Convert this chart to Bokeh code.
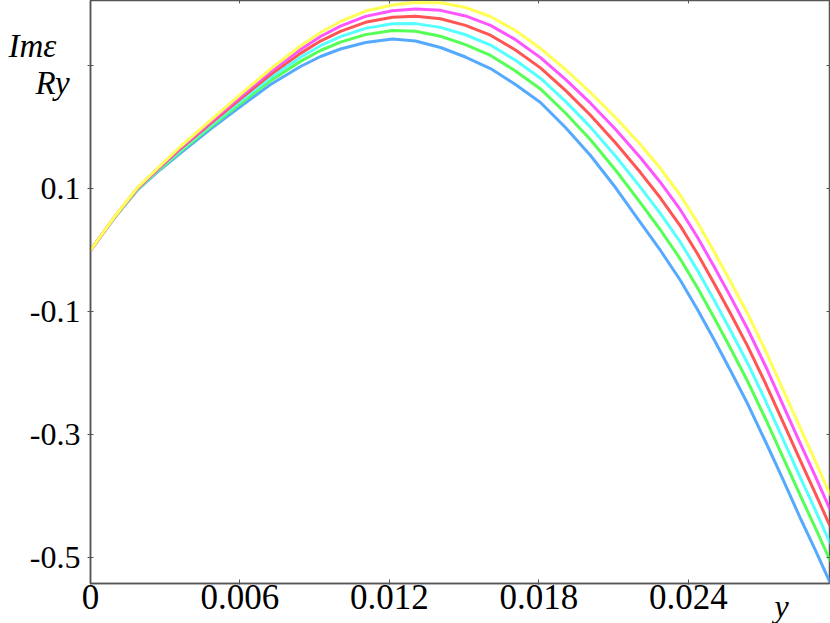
from bokeh.plotting import figure
from bokeh.models import Range1d, FixedTicker, LinearAxis
from bokeh.core.properties import value
from bokeh.embed import file_html
from bokeh.resources import INLINE

# abscissa (y) values
x = [0.0, 0.001003, 0.001886, 0.002809, 0.003612, 0.004816, 0.006020, 0.007224,
     0.008428, 0.009231, 0.010033, 0.011037, 0.012120, 0.013043, 0.014047,
     0.015050, 0.016054, 0.017057, 0.018060, 0.019064, 0.020067, 0.021070,
     0.022074, 0.022876, 0.023679, 0.024361, 0.025003, 0.025686, 0.026368,
     0.027090, 0.027773, 0.028495, 0.029097, 0.029699]

yellow = [0.0, 0.0569, 0.1024, 0.1382, 0.1691, 0.2114, 0.2537, 0.2951, 0.3325,
          0.3545, 0.3724, 0.3894, 0.3992, 0.4033, 0.4029, 0.3951, 0.3805, 0.3577,
          0.3285, 0.2943, 0.2569, 0.2163, 0.1724, 0.1333, 0.0894, 0.0455, 0.0,
          -0.0504, -0.1024, -0.1626, -0.2244, -0.2894, -0.3431, -0.3984]
magenta = [0.0, 0.0566, 0.1017, 0.1371, 0.1673, 0.2091, 0.2504, 0.2908, 0.3268,
           0.3479, 0.3648, 0.3807, 0.3898, 0.3927, 0.3905, 0.3814, 0.3661, 0.3428,
           0.3136, 0.2783, 0.2395, 0.1970, 0.1508, 0.1106, 0.0659, 0.0215, -0.0243,
           -0.0750, -0.1273, -0.1878, -0.2493, -0.3143, -0.3677, -0.4227]
red = [0.0, 0.0563, 0.1009, 0.1359, 0.1653, 0.2064, 0.2467, 0.2860, 0.3205,
       0.3405, 0.3563, 0.3710, 0.3793, 0.3808, 0.3767, 0.3661, 0.3501, 0.3261,
       0.2969, 0.2603, 0.2200, 0.1753, 0.1267, 0.0853, 0.0396, -0.0054, -0.0515,
       -0.1025, -0.1551, -0.2159, -0.2771, -0.3421, -0.3952, -0.4499]
cyan = [0.0, 0.0560, 0.1002, 0.1346, 0.1633, 0.2038, 0.2430, 0.2812, 0.3142,
        0.3330, 0.3478, 0.3612, 0.3688, 0.3689, 0.3628, 0.3508, 0.3340, 0.3094,
        0.2802, 0.2424, 0.2006, 0.1537, 0.1026, 0.0600, 0.0134, -0.0323, -0.0787,
        -0.1300, -0.1829, -0.2440, -0.3049, -0.3699, -0.4227, -0.4771]
green = [0.0, 0.0557, 0.0993, 0.1333, 0.1612, 0.2010, 0.2391, 0.2762, 0.3075,
         0.3252, 0.3389, 0.3510, 0.3577, 0.3564, 0.3483, 0.3347, 0.3171, 0.2919,
         0.2627, 0.2236, 0.1801, 0.1309, 0.0773, 0.0333, -0.0143, -0.0606, -0.1073,
         -0.1589, -0.2122, -0.2736, -0.3342, -0.3992, -0.4516, -0.5057]
blue = [0.0, 0.0553, 0.0984, 0.1317, 0.1585, 0.1976, 0.2341, 0.2699, 0.2992,
        0.3154, 0.3276, 0.3382, 0.3439, 0.3407, 0.3301, 0.3146, 0.2959, 0.2699,
        0.2407, 0.2000, 0.1545, 0.1024, 0.0455, 0.0, -0.0488, -0.0959, -0.1431,
        -0.1951, -0.2488, -0.3106, -0.3707, -0.4358, -0.4878, -0.5415]

series = [(yellow, "#ffff55"), (magenta, "#ff55ff"), (red, "#ff5555"),
          (cyan, "#55ffff"), (green, "#55ff55"), (blue, "#55aaff")]

x_ticks = [0, 0.006, 0.012, 0.018, 0.024]
x_tick_labels = {0: "0", 0.006: "0.006", 0.012: "0.012", 0.018: "0.018", 0.024: "0.024"}
y_ticks = [0.3, 0.1, -0.1, -0.3, -0.5]
y_tick_labels = {0.3: "", 0.1: "0.1", -0.1: "-0.1", -0.3: "-0.3", -0.5: "-0.5"}

axis_titles = ["Imε", "Ry", "y"]

FONT = "Liberation Serif"
AX = "#555555"
W, H = 830, 623

p = figure(width=W, height=H,
           x_range=Range1d(0, 0.02966), y_range=Range1d(-0.5415, 0.4065),
           output_backend="svg", toolbar_location=None,
           min_border_left=90, min_border_right=1, min_border_top=0,
           min_border_bottom=40, x_axis_location=None, y_axis_location=None)
p.grid.visible = False
p.outline_line_color = AX
p.outline_line_width = 1.5
p.background_fill_color = "white"
p.border_fill_color = "white"

# bottom axis
xb = LinearAxis(ticker=FixedTicker(ticks=x_ticks), major_label_overrides=x_tick_labels)
xb.axis_line_color = AX
xb.axis_line_width = 1.5
xb.major_tick_line_color = AX
xb.major_tick_in = 4
xb.major_tick_out = 1
xb.minor_tick_line_color = None
xb.major_label_standoff = 0
xb.major_label_text_font = FONT
xb.major_label_text_font_size = "35px"
xb.major_label_text_color = "black"
p.add_layout(xb, "below")

# left axis
yl = LinearAxis(ticker=FixedTicker(ticks=y_ticks), major_label_overrides=y_tick_labels)
yl.axis_line_color = AX
yl.axis_line_width = 1.5
yl.major_tick_line_color = AX
yl.major_tick_in = 3
yl.major_tick_out = 3
yl.minor_tick_line_color = None
yl.major_label_standoff = 7
yl.major_label_text_font = FONT
yl.major_label_text_font_size = "32px"
yl.major_label_text_color = "black"
p.add_layout(yl, "left")

# right axis (ticks only)
yr = LinearAxis(ticker=FixedTicker(ticks=y_ticks), major_label_overrides={t: "" for t in y_ticks})
yr.axis_line_color = None
yr.major_tick_line_color = AX
yr.major_tick_in = 3
yr.major_tick_out = 0
yr.minor_tick_line_color = None
yr.major_label_standoff = 0
yr.major_label_text_font_size = "1px"
p.add_layout(yr, "right")

# top axis (ticks only)
xt = LinearAxis(ticker=FixedTicker(ticks=x_ticks), major_label_overrides={t: "" for t in x_ticks})
xt.axis_line_color = None
xt.major_tick_line_color = AX
xt.major_tick_in = 3
xt.major_tick_out = 0
xt.minor_tick_line_color = None
xt.major_label_standoff = 0
xt.major_label_text_font_size = "1px"
p.add_layout(xt, "above")

for ys, col in series[::-1]:
    p.line(x, ys, line_color=col, line_width=3)

# transparent overlay (same size, pixel coordinates) carrying the italic axis titles
q = figure(width=W, height=H, x_range=Range1d(0, W), y_range=Range1d(H, 0),
           output_backend="svg", toolbar_location=None, min_border=0,
           x_axis_location=None, y_axis_location=None,
           styles={"position": "absolute", "left": "0px", "top": "0px",
                   "pointer-events": "none"})
q.grid.visible = False
q.outline_line_color = None
q.background_fill_alpha = 0
q.border_fill_alpha = 0
q.text(x=[8, 35], y=[45, 82], text=axis_titles[:2], text_font=value(FONT),
       text_font_style="italic", text_font_size="33px", text_color="black",
       text_baseline="alphabetic", text_align="left")
q.text(x=[774], y=[605], text=axis_titles[2:], text_font=value(FONT),
       text_font_style="italic", text_font_size="32px", text_color="black",
       text_baseline="alphabetic", text_align="left")

open("out.html", "w").write(file_html([p, q], INLINE))
